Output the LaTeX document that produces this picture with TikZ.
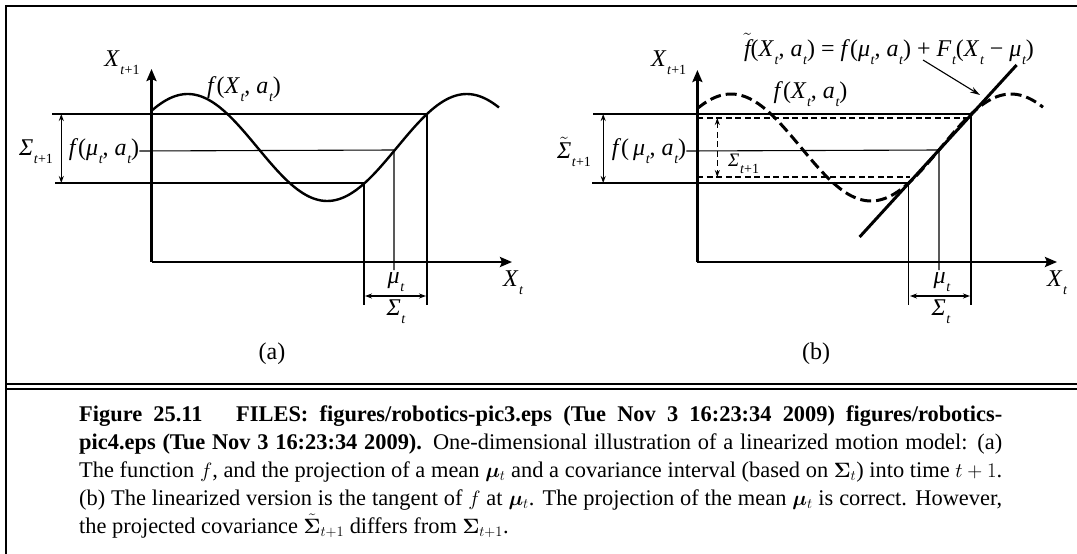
\documentclass[tikz,border=0pt]{standalone}
\usepackage{amsmath,amssymb,bm}
\usepackage{fontspec}
\setmainfont{Liberation Serif}
\usetikzlibrary{arrows.meta,calc}

\newcommand{\sub}[1]{\kern0.6pt\raisebox{-0.34em}{\fontsize{14}{14}\selectfont\itshape #1}}
\newcommand{\tld}[1]{$\tilde{\text{\itshape #1}}$}

\begin{document}
\begin{tikzpicture}[x=1pt,y=-1pt,
  every node/.style={font=\fontsize{24}{26}\selectfont,inner sep=0pt},
  axis/.style={line width=2.4pt,-{Stealth[length=12pt,width=10pt,inset=2pt]}},
  guide/.style={line width=1.1pt},
  gdash/.style={line width=1.1pt,dash pattern=on 6pt off 3.5pt},
  span/.style={line width=1.1pt,{Stealth[length=7pt,width=5pt]}-{Stealth[length=7pt,width=5pt]}},
  curve/.style={line width=2.4pt}]
\useasboundingbox (0,0) rectangle (1077,554);

\coordinate (tl) at (6,6);
\coordinate (tr) at (1077,6);
\coordinate (bl) at (6,554);
\draw[line width=2.4pt] (tr) -- (tl) -- (bl);
\draw[line width=1.6pt] (6,384) coordinate (s1) -- (1077,384) coordinate (s2);
\draw[line width=1.6pt] (6,389) coordinate (s3) -- (1077,389) coordinate (s4);

% (a)
\coordinate (aO) at (151.5,262);
\coordinate (aY) at (151.5,69);
\coordinate (aX) at (512,262);
\coordinate (aTopL) at (52,114);
\coordinate (aTop) at (427,114);
\coordinate (aTopD) at (427,305);
\coordinate (aMu) at (394,150);
\coordinate (aMuD) at (394,270);
\coordinate (aBotL) at (55,183);
\coordinate (aBot) at (364,183);
\coordinate (aBotD) at (364,305);
\coordinate (aS1) at (61.3,114);
\coordinate (aS2) at (61.3,183);
\coordinate (aW1) at (365,296);
\coordinate (aW2) at (426,296);

\node (aXn) at (122,63) {\textit{X}\sub{t\textup{+1}}};
\node (afX) at (244,89) {\textit{f}(\textit{X}\sub{t}, \textit{a}\sub{t})};
\node (aSig) at (36,152) {\textit{Σ}\sub{t\textup{+1}}};
\node (afmu) at (104,151) {\textit{f}(\textit{μ}\sub{t}, \textit{a}\sub{t})};
\node (amu) at (396,282) {\textit{μ}\sub{t}};
\node (aSt) at (396,312) {\textit{Σ}\sub{t}};
\node (aXt) at (513,283) {\textit{X}\sub{t}};
\node (acap) at (272,354) {(a)};

\draw[guide] (aTopL) -- (aTop) -- (aTopD);
\draw[guide] (afmu.east) -- (aMu) -- (aMuD);
\draw[guide] (aBotL) -- (aBot) -- (aBotD);
\draw[span] (aS1) -- (aS2);
\draw[span] (aW1) -- (aW2);
\draw[curve] plot[domain=151.5:499,samples=120,smooth] (\x,{147.5-53.5*cos(1.29032*(\x-187.7))});
\draw[axis] (aO) -- (aY);
\draw[axis] (aO) -- (aX);

% (b)
\coordinate (bO) at (697.4,262);
\coordinate (bY) at (697.4,70);
\coordinate (bX) at (1057,262);
\coordinate (bTopL) at (593,114);
\coordinate (bTop) at (971,114);
\coordinate (bTopD) at (971,305);
\coordinate (bDa) at (697.4,118);
\coordinate (bDaR) at (971,118);
\coordinate (bDb) at (697.4,177);
\coordinate (bDbR) at (910,177);
\coordinate (bMu) at (939,150);
\coordinate (bMuD) at (939,270);
\coordinate (bBotL) at (592,183);
\coordinate (bBot) at (908.5,183);
\coordinate (bBotD) at (908.5,305);
\coordinate (bS1) at (603.2,114);
\coordinate (bS2) at (603.2,183);
\coordinate (bD1) at (717.3,118);
\coordinate (bD2) at (717.3,177);
\coordinate (bW1) at (910,296);
\coordinate (bW2) at (970,296);
\coordinate (bT1) at (859.6,237);
\coordinate (bT2) at (1016.6,65);
\coordinate (bLead) at (923,60);
\coordinate (bHit) at (980,95);

\node (bXn) at (668.6,63) {\textit{X}\sub{t\textup{+1}}};
\node (beq) at (889,49) {\tld{f}(\textit{X}\sub{t}, \textit{a}\sub{t}) = \textit{f}(\textit{μ}\sub{t}, \textit{a}\sub{t}) + \textit{F}\sub{t}(\textit{X}\sub{t} − \textit{μ}\sub{t})};
\node (bfX) at (810.5,94) {\textit{f}(\textit{X}\sub{t}, \textit{a}\sub{t})};
\node (bSig) at (574,152) {\tld{Σ}\sub{t\textup{+1}}};
\node (bfmu) at (649,151) {\textit{f}(\,\textit{μ}\sub{t}, \textit{a}\sub{t})};
\node[font=\fontsize{19}{20}\selectfont] (bSs) at (743.6,164) {\textit{Σ}\sub{t\textup{+1}}};
\node (bmu) at (942,282) {\textit{μ}\sub{t}};
\node (bSt) at (941,312) {\textit{Σ}\sub{t}};
\node (bXt) at (1057,283) {\textit{X}\sub{t}};
\node (bcap) at (816,354) {(b)};

\draw[guide] (bTopL) -- (bTop) -- (bTopD);
\draw[gdash] (bDa) -- (bDaR);
\draw[guide] (bfmu.east) -- (bMu) -- (bMuD);
\draw[gdash] (bDb) -- (bDbR);
\draw[guide] (bBotL) -- (bBot) -- (bBotD);
\draw[span] (bS1) -- (bS2);
\draw[span,dash pattern=on 6pt off 3.5pt] (bD1) -- (bD2);
\draw[span] (bW1) -- (bW2);
\draw[curve,line width=3pt,dash pattern=on 11pt off 5pt] plot[domain=697.4:1043,samples=120,smooth] (\x,{147.5-53.5*cos(1.28571*(\x-731))});
\draw[line width=3pt] (bT1) -- (bT2);
\draw[line width=1.1pt,-{Stealth[length=10pt,width=6pt]}] (bLead) -- (bHit);
\draw[axis] (bO) -- (bY);
\draw[axis] (bO) -- (bX);

\node[anchor=base west,text width=923pt,align=justify,font=\fontsize{22.4}{28}\selectfont] (capt) at (79,421)
{\hyphenpenalty=10000\tolerance=10000\textbf{Figure 25.11\hspace{1em} FILES: figures/robotics-pic3.eps (Tue Nov 3 16:23:34 2009) figures/robotics-\linebreak pic4.eps (Tue Nov 3 16:23:34 2009).} One-dimensional illustration of a linearized motion model: (a)\linebreak The function $f$, and the projection of a mean $\bm{\mu}_t$ and a covariance interval (based on $\bm{\Sigma}_t$) into time $t+1$.\linebreak (b) The linearized version is the tangent of $f$ at $\bm{\mu}_t$. The projection of the mean $\bm{\mu}_t$ is correct. However,\linebreak the projected covariance $\tilde{\bm{\Sigma}}_{t+1}$ differs from $\bm{\Sigma}_{t+1}$.};
\end{tikzpicture}
\end{document}
